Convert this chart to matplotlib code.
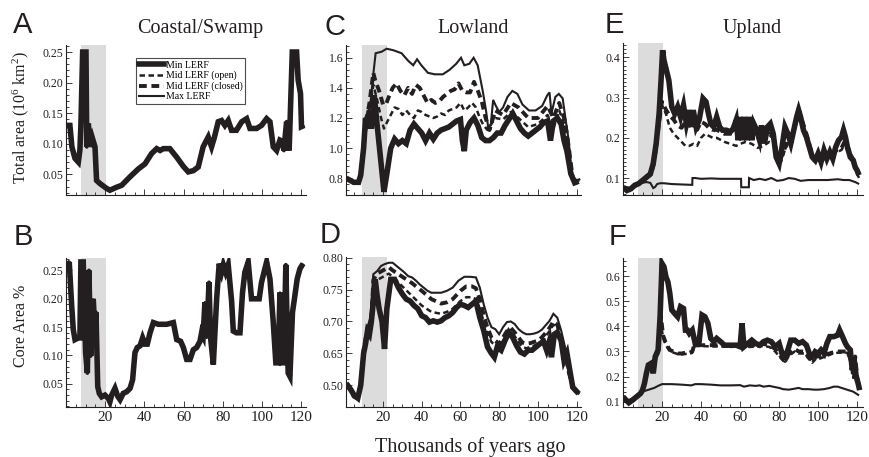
import numpy as np
import matplotlib
matplotlib.use('Agg')
import matplotlib.pyplot as plt
from matplotlib.lines import Line2D
from matplotlib.ticker import FixedLocator, MultipleLocator, FormatStrFormatter

# ---------------- data (thousands of years ago, values) ----------------
coastal_total_t = [0.5, 2, 3, 4.6, 6.3, 7.1, 7.6, 8.5, 10.2, 10.6, 11.4, 12.2, 13.4, 14.8, 15.6, 17.3, 20.7, 22.4, 25.9, 28.4,
                   32.7, 37, 40.3, 43.7, 46.3, 48, 49.7, 53, 56.5, 59.9, 62.4, 65, 67.5, 70, 72.6, 74.3, 75.7, 77.7, 79.4, 81.1,
                   82.8, 84.5, 87, 89.7, 92.2, 93.9, 97.3, 99.8, 102.4, 104.1, 105.8, 107.5, 109.2, 110.5, 111.2, 112.6, 113.9, 115.5, 117.7, 118.5,
                   119.7, 120.2, 121.6]
coastal_total = [0.13, 0.13, 0.095, 0.076, 0.07, 0.09, 0.13, 0.25, 0.25, 0.095, 0.133, 0.095, 0.11, 0.095, 0.04, 0.035, 0.027, 0.024, 0.029, 0.032,
                 0.046, 0.059, 0.067, 0.084, 0.092, 0.089, 0.092, 0.092, 0.078, 0.063, 0.054, 0.056, 0.062, 0.095, 0.111, 0.095, 0.11, 0.136, 0.138, 0.13,
                 0.138, 0.122, 0.122, 0.136, 0.141, 0.125, 0.125, 0.13, 0.141, 0.136, 0.095, 0.089, 0.106, 0.104, 0.089, 0.136, 0.089, 0.25, 0.25, 0.204,
                 0.182, 0.128, 0.13]

coastal_core_t = [0.5, 1.7, 2.9, 3.7, 4.6, 6.3, 7.1, 7.6, 8.8, 10, 10.9, 11.7, 12.6, 13.4, 13.9, 14.8, 15.3, 16.2, 17, 18.2,
                  19.9, 21.6, 22.4, 23.3, 25, 26.4, 27.6, 29.2, 31, 32.7, 34, 35.2, 36.4, 37.8, 39.1, 40.3, 41.5, 42.9, 44.6, 47.1,
                  51.4, 54.8, 56.5, 58.5, 59.9, 61.6, 63.3, 65, 66.7, 68.4, 69.2, 70, 70.9, 71.8, 73, 73.8, 75.2, 76, 76.9, 78.2,
                  79.4, 80.3, 81.5, 82.8, 84.5, 85.4, 87, 88.8, 90.1, 91.3, 93, 94.7, 96.4, 98.6, 99.8, 101.5, 102.4, 104.1, 105.8, 107.1,
                  108.3, 109.2, 110, 111.2, 112.2, 113.4, 114.3, 115.6, 116.8, 118, 119.4, 121]
coastal_core = [0.265, 0.262, 0.188, 0.146, 0.128, 0.131, 0.131, 0.265, 0.265, 0.105, 0.069, 0.25, 0.099, 0.188, 0.2, 0.14, 0.176, 0.045, 0.033, 0.027,
                0.03, 0.024, 0.018, 0.03, 0.042, 0.028, 0.022, 0.033, 0.036, 0.042, 0.057, 0.105, 0.114, 0.117, 0.131, 0.12, 0.12, 0.14, 0.158, 0.155,
                0.155, 0.158, 0.128, 0.125, 0.114, 0.093, 0.093, 0.11, 0.114, 0.125, 0.14, 0.134, 0.194, 0.131, 0.229, 0.131, 0.084, 0.14, 0.2, 0.262,
                0.247, 0.26, 0.247, 0.26, 0.197, 0.143, 0.14, 0.14, 0.211, 0.247, 0.265, 0.2, 0.2, 0.2, 0.229, 0.253, 0.265, 0.235, 0.158, 0.087,
                0.087, 0.211, 0.087, 0.087, 0.26, 0.069, 0.063, 0.176, 0.205, 0.235, 0.253, 0.262]

lowland_total_max_t = [1, 2.5, 4.8, 7.4, 8.5, 10.8, 13.3, 15, 16.2, 19.3, 21.9, 25.3, 29.6, 33, 35.6, 37.6, 39.8, 43.2, 46.7, 50.9,
                       54.4, 57.8, 60.3, 62, 64.6, 66.8, 68.9, 71.5, 73.2, 74.4, 75.7, 76.9, 78.3, 80, 82, 84.3, 86.8, 89.4, 92, 95.4,
                       98.8, 102.2, 104.8, 106, 107, 109, 110.8, 112.8, 114.2, 115.9, 117.6, 119.7, 121.9]
lowland_total_max = [0.8, 0.79, 0.773, 0.773, 0.817, 1.2, 1.27, 1.49, 1.63, 1.64, 1.66, 1.65, 1.63, 1.58, 1.55, 1.59, 1.55, 1.5, 1.49, 1.49,
                     1.52, 1.56, 1.6, 1.55, 1.56, 1.6, 1.55, 1.38, 1.25, 1.13, 1.16, 1.32, 1.28, 1.24, 1.27, 1.34, 1.38, 1.36, 1.29, 1.25,
                     1.25, 1.28, 1.35, 1.37, 1.23, 1.34, 1.36, 1.33, 1.2, 1.05, 0.806, 0.784, 0.795]
lowland_total_closed_t = [1, 4.8, 7.4, 8.5, 11, 13, 15, 16, 18, 20, 21.5, 23, 25, 27, 29, 31, 33, 35, 37, 39,
                          41, 43, 45, 47, 49, 51, 53, 55, 57, 59, 61, 63, 65, 67, 69, 71, 73, 75, 78, 82,
                          86, 90, 95, 100, 105, 108, 111, 114, 116, 118, 120, 121.9]
lowland_total_closed = [0.8, 0.773, 0.773, 0.817, 1.15, 1.3, 1.5, 1.45, 1.38, 1.29, 1.29, 1.34, 1.4, 1.43, 1.38, 1.35, 1.4, 1.36, 1.42, 1.4,
                        1.35, 1.3, 1.32, 1.3, 1.31, 1.34, 1.36, 1.38, 1.39, 1.43, 1.38, 1.37, 1.37, 1.44, 1.38, 1.31, 1.2, 1.12, 1.25, 1.22,
                        1.3, 1.27, 1.2, 1.2, 1.28, 1.2, 1.3, 1.18, 1.0, 0.8, 0.78, 0.79]
lowland_total_open_t = [1, 4.8, 7.4, 8.5, 11, 13, 15, 17, 19, 20.5, 22, 24, 26, 28, 30, 32, 34, 36, 38, 40,
                        42, 44, 46, 48, 50, 52, 54, 56, 58, 60, 62, 64, 66, 68, 70, 72, 74, 78, 82, 86,
                        90, 95, 100, 105, 108, 111, 114, 116, 118, 120, 121.9]
lowland_total_open = [0.8, 0.773, 0.773, 0.817, 1.1, 1.25, 1.42, 1.32, 1.2, 1.13, 1.17, 1.22, 1.27, 1.26, 1.22, 1.25, 1.22, 1.2, 1.25, 1.24,
                      1.22, 1.21, 1.2, 1.21, 1.23, 1.22, 1.25, 1.26, 1.27, 1.3, 1.25, 1.27, 1.3, 1.27, 1.2, 1.15, 1.12, 1.2, 1.19, 1.24,
                      1.2, 1.14, 1.16, 1.22, 1.13, 1.25, 1.15, 1.0, 0.8, 0.78, 0.79]
lowland_total_min_t = [1, 2.5, 4.8, 7.4, 8.5, 10, 11, 12, 13, 14, 15.5, 17, 19, 20.5, 22, 24, 26, 28, 30, 32,
                       34, 36, 38, 40, 42, 44, 46, 48, 50, 52, 54, 56, 58, 60, 61, 62, 63, 65, 67, 69,
                       71, 73, 75, 77, 79, 81, 83, 85, 87, 89, 91, 93, 95, 97, 99, 101, 103, 105, 106.5, 108,
                       110, 112, 113.5, 115, 117, 119, 121]
lowland_total_min = [0.8, 0.79, 0.773, 0.773, 0.82, 1.0, 1.2, 1.13, 1.25, 1.13, 1.35, 1.15, 0.9, 0.71, 0.83, 1.0, 1.06, 1.03, 1.05, 1.03,
                     1.12, 1.16, 1.13, 1.1, 1.05, 1.1, 1.06, 1.1, 1.12, 1.13, 1.14, 1.16, 1.18, 1.19, 1.05, 0.98, 1.12, 1.17, 1.2, 1.15,
                     1.07, 1.05, 1.05, 1.07, 1.1, 1.1, 1.15, 1.19, 1.23, 1.18, 1.13, 1.1, 1.08, 1.1, 1.12, 1.14, 1.17, 1.18, 1.05, 1.18,
                     1.2, 1.16, 1.05, 0.98, 0.83, 0.77, 0.78]

lowland_core_max_t = [1, 3, 5, 7, 8.5, 10, 12, 13.5, 15, 17, 19, 21, 23, 25, 27, 29, 31, 33, 35, 37,
                      39, 41, 43, 45, 50, 53, 56, 59, 62, 65, 68, 70, 72, 74, 76, 78, 80, 82, 84, 86,
                      88, 90, 92, 94, 96, 98, 100, 102, 104, 106, 108, 110, 112, 114, 116, 118, 120, 121.5]
lowland_core_max = [0.509, 0.476, 0.446, 0.437, 0.509, 0.655, 0.691, 0.706, 0.774, 0.779, 0.787, 0.79, 0.792, 0.792, 0.787, 0.782, 0.777, 0.771, 0.769, 0.764,
                    0.758, 0.753, 0.748, 0.745, 0.745, 0.748, 0.753, 0.764, 0.77, 0.77, 0.769, 0.753, 0.727, 0.706, 0.691, 0.688, 0.68, 0.691, 0.699, 0.7,
                    0.696, 0.688, 0.683, 0.68, 0.68, 0.681, 0.683, 0.687, 0.694, 0.701, 0.712, 0.706, 0.686, 0.66, 0.569, 0.491, 0.47, 0.461]
lowland_core_mid_t = [1, 5, 7, 8.5, 10, 12, 14, 15, 17, 20, 23, 25, 30, 35, 40, 45, 50, 53, 56, 60,
                      63, 66, 68, 70, 72, 74, 76, 78, 80, 82, 84, 86, 88, 90, 92, 94, 96, 98, 100, 102,
                      104, 106, 108, 110, 112, 114, 116, 118, 120, 121.5]
lowland_core_closed = [0.509, 0.446, 0.437, 0.509, 0.655, 0.69, 0.70, 0.765, 0.775, 0.78, 0.785, 0.78, 0.77, 0.76, 0.748, 0.735, 0.728, 0.73, 0.735, 0.748,
                       0.755, 0.755, 0.752, 0.735, 0.71, 0.69, 0.675, 0.67, 0.665, 0.675, 0.685, 0.69, 0.683, 0.675, 0.667, 0.665, 0.666, 0.668, 0.67, 0.675,
                       0.682, 0.69, 0.7, 0.695, 0.675, 0.65, 0.56, 0.49, 0.47, 0.461]
lowland_core_open = [0.509, 0.446, 0.437, 0.509, 0.655, 0.688, 0.70, 0.76, 0.765, 0.77, 0.775, 0.77, 0.755, 0.74, 0.725, 0.715, 0.712, 0.715, 0.72, 0.732,
                     0.738, 0.738, 0.735, 0.72, 0.7, 0.68, 0.668, 0.662, 0.66, 0.67, 0.68, 0.685, 0.677, 0.668, 0.66, 0.658, 0.66, 0.662, 0.665, 0.67,
                     0.677, 0.685, 0.695, 0.69, 0.668, 0.645, 0.555, 0.49, 0.47, 0.461]
lowland_core_min_t = [1, 3, 5, 7, 8.5, 10, 11, 12, 13, 14, 15, 16, 17, 18, 19.5, 20.8, 22, 24, 26, 28,
                      30, 32, 34, 36, 38, 40, 42, 44, 46, 48, 50, 52, 54, 56, 58, 60, 62, 64, 66, 68,
                      70, 72, 74, 76, 77.5, 79, 81, 83, 85, 87, 89, 91, 93, 95, 97, 99, 101, 103, 104.5, 106,
                      107, 108.5, 110, 112, 113.5, 115, 116.5, 118, 119.5, 121]
lowland_core_min = [0.509, 0.485, 0.455, 0.44, 0.5, 0.65, 0.665, 0.685, 0.68, 0.7, 0.73, 0.766, 0.74, 0.72, 0.7, 0.657, 0.72, 0.766, 0.766, 0.753,
                    0.743, 0.735, 0.732, 0.725, 0.72, 0.709, 0.706, 0.699, 0.701, 0.699, 0.701, 0.706, 0.709, 0.714, 0.722, 0.727, 0.725, 0.722, 0.727, 0.732,
                    0.706, 0.686, 0.66, 0.65, 0.632, 0.66, 0.655, 0.67, 0.683, 0.675, 0.662, 0.652, 0.647, 0.655, 0.655, 0.66, 0.665, 0.668, 0.655, 0.67,
                    0.632, 0.68, 0.683, 0.67, 0.617, 0.65, 0.569, 0.491, 0.476, 0.461]

upland_total_min_t = [0, 2, 4, 6, 8, 10, 12, 14, 15.5, 17, 18.5, 19.5, 20.3, 21, 22, 23.5, 25, 26.5, 28, 29.5,
                      31, 32.5, 34, 35, 36, 37.5, 39, 41, 42.5, 44, 45, 46.5, 48, 49.5, 51, 53, 55, 56.5, 58, 59,
                      60, 61, 62, 63.5, 64.5, 66, 67, 68.5, 70, 71, 72.5, 74, 75.5, 77, 78.5, 80, 81.5, 83, 84.5, 86,
                      87.5, 89, 90, 91, 92.5, 94, 95.5, 97, 98.5, 100, 101.5, 103, 104.5, 106, 107.5, 109, 110.5, 112, 113, 114,
                      115, 116.5, 118, 119, 120, 121]
upland_total_min = [0.077, 0.069, 0.073, 0.082, 0.086, 0.094, 0.102, 0.11, 0.136, 0.186, 0.26, 0.343, 0.418, 0.393, 0.373, 0.343, 0.277, 0.26, 0.277, 0.252,
                    0.281, 0.235, 0.269, 0.227, 0.269, 0.227, 0.244, 0.298, 0.29, 0.256, 0.235, 0.227, 0.252, 0.227, 0.219, 0.219, 0.215, 0.223, 0.244, 0.194,
                    0.252, 0.194, 0.252, 0.194, 0.252, 0.194, 0.235, 0.219, 0.194, 0.231, 0.186, 0.227, 0.235, 0.21, 0.152, 0.136, 0.177, 0.227, 0.21, 0.186,
                    0.219, 0.252, 0.269, 0.252, 0.219, 0.202, 0.177, 0.152, 0.144, 0.161, 0.14, 0.169, 0.148, 0.165, 0.148, 0.177, 0.194, 0.202, 0.219, 0.202,
                    0.177, 0.152, 0.144, 0.127, 0.119, 0.107]
upland_total_mid_t = [0, 4, 8, 12, 14, 15.5, 17, 18.5, 20, 22, 24, 26, 28, 30, 32, 34, 36, 38, 40, 42,
                      44, 46, 48, 50, 52, 55, 58, 60, 63, 66, 69, 72, 75, 77, 79, 81, 83, 85, 87, 89,
                      90, 92, 94, 96, 98, 100, 102, 104, 106, 108, 110, 112, 114, 116, 118, 120, 121]
upland_total_closed = [0.077, 0.073, 0.086, 0.1, 0.108, 0.13, 0.175, 0.24, 0.29, 0.27, 0.255, 0.245, 0.23, 0.225, 0.24, 0.23, 0.235, 0.22, 0.24, 0.235,
                       0.225, 0.22, 0.22, 0.215, 0.21, 0.21, 0.215, 0.22, 0.22, 0.21, 0.2, 0.2, 0.21, 0.2, 0.16, 0.15, 0.175, 0.2, 0.21, 0.245,
                       0.265, 0.24, 0.21, 0.175, 0.145, 0.15, 0.145, 0.155, 0.155, 0.165, 0.17, 0.175, 0.195, 0.165, 0.145, 0.115, 0.105]
upland_total_open = [0.077, 0.073, 0.086, 0.1, 0.108, 0.13, 0.175, 0.235, 0.28, 0.26, 0.225, 0.21, 0.2, 0.19, 0.18, 0.18, 0.185, 0.18, 0.2, 0.21,
                     0.205, 0.2, 0.2, 0.195, 0.19, 0.185, 0.18, 0.185, 0.19, 0.185, 0.175, 0.18, 0.19, 0.185, 0.15, 0.14, 0.17, 0.19, 0.2, 0.24,
                     0.26, 0.23, 0.2, 0.17, 0.14, 0.145, 0.14, 0.15, 0.15, 0.16, 0.165, 0.17, 0.19, 0.16, 0.14, 0.11, 0.1]
upland_total_max_t = [0, 2, 4, 6, 8, 10, 12, 14, 15.5, 16.5, 17.5, 19, 21, 25, 30, 35.5, 35.6, 37, 40, 45,
                      50, 55, 60.5, 60.6, 64.5, 64.6, 67, 70, 73, 76, 79, 82, 85, 88, 91, 95, 100, 105, 110, 113,
                      116, 119, 121]
upland_total_max = [0.077, 0.072, 0.075, 0.08, 0.085, 0.088, 0.09, 0.088, 0.075, 0.078, 0.085, 0.087, 0.087, 0.085, 0.084, 0.083, 0.1, 0.1, 0.098, 0.099,
                    0.098, 0.098, 0.098, 0.077, 0.077, 0.1, 0.095, 0.098, 0.095, 0.1, 0.093, 0.095, 0.1, 0.098, 0.093, 0.095, 0.095, 0.095, 0.097, 0.095,
                    0.095, 0.09, 0.085]

upland_core_min_t = [0, 1.5, 3, 5, 7, 9, 10, 11, 12, 13, 14.5, 15.5, 16.5, 18, 19, 20, 21, 22, 23, 24,
                     25, 26.5, 28, 29.5, 31, 32, 33, 34, 35.5, 37, 39, 40.5, 42, 43.5, 45, 46.5, 48, 50, 52, 55,
                     58, 60, 61, 62, 64, 66, 68, 70, 72, 74, 76, 78, 80, 81.5, 83, 84.5, 86, 88, 90, 92,
                     94, 95.5, 97, 98.5, 100, 101.5, 103, 104.5, 106, 108, 110, 111, 112.5, 114, 115, 116.5, 117.5, 118.5, 119.5, 120.5,
                     121.3]
upland_core_min = [0.12, 0.107, 0.096, 0.107, 0.12, 0.133, 0.146, 0.173, 0.213, 0.246, 0.253, 0.213, 0.279, 0.306, 0.438, 0.65, 0.637, 0.597, 0.577, 0.531,
                   0.465, 0.451, 0.438, 0.478, 0.471, 0.385, 0.385, 0.372, 0.385, 0.332, 0.339, 0.445, 0.438, 0.412, 0.352, 0.339, 0.352, 0.339, 0.325, 0.325,
                   0.325, 0.319, 0.412, 0.319, 0.332, 0.345, 0.332, 0.325, 0.339, 0.345, 0.339, 0.319, 0.332, 0.292, 0.279, 0.306, 0.345, 0.345, 0.332, 0.339,
                   0.325, 0.292, 0.279, 0.299, 0.292, 0.306, 0.292, 0.332, 0.359, 0.359, 0.365, 0.385, 0.359, 0.332, 0.319, 0.306, 0.226, 0.266, 0.2, 0.173,
                   0.146]
upland_core_mid_t = [0, 3, 7, 10, 12, 13, 14.5, 15.5, 16.5, 18, 19.5, 20.5, 22, 24, 26, 28, 30, 32, 34, 35.5,
                     36.5, 38, 40, 45, 50, 55, 60, 65, 70, 72, 75, 78, 81, 83, 85, 88, 90, 93, 95, 97,
                     99, 101, 103, 105, 107, 110, 113, 115, 117, 118, 119, 120, 121]
upland_core_closed = [0.12, 0.096, 0.12, 0.146, 0.21, 0.24, 0.25, 0.22, 0.27, 0.3, 0.438, 0.365, 0.332, 0.306, 0.299, 0.292, 0.292, 0.295, 0.295, 0.3,
                      0.325, 0.325, 0.325, 0.325, 0.325, 0.325, 0.325, 0.325, 0.325, 0.33, 0.325, 0.31, 0.28, 0.262, 0.29, 0.31, 0.3, 0.3, 0.28, 0.262,
                      0.28, 0.28, 0.285, 0.29, 0.295, 0.3, 0.3, 0.3, 0.26, 0.2, 0.28, 0.2, 0.15]
upland_core_open = [0.12, 0.096, 0.12, 0.146, 0.205, 0.235, 0.245, 0.215, 0.265, 0.29, 0.41, 0.355, 0.325, 0.3, 0.295, 0.29, 0.288, 0.29, 0.29, 0.295,
                    0.32, 0.322, 0.322, 0.32, 0.32, 0.318, 0.32, 0.318, 0.32, 0.322, 0.318, 0.3, 0.272, 0.255, 0.282, 0.3, 0.292, 0.292, 0.272, 0.255,
                    0.272, 0.272, 0.278, 0.284, 0.29, 0.295, 0.295, 0.295, 0.25, 0.195, 0.27, 0.19, 0.145]
upland_core_max_t = [0, 2, 4, 6, 8, 10, 12, 14, 16, 18, 20, 25, 30, 35, 37, 40, 45, 50, 55, 60,
                     62, 65, 68, 70, 72, 75, 78, 80, 82, 85, 88, 90, 92, 95, 98, 100, 103, 106, 108, 110,
                     112, 114, 116, 118, 120, 121]
upland_core_max = [0.12, 0.105, 0.11, 0.12, 0.13, 0.14, 0.145, 0.15, 0.155, 0.163, 0.17, 0.17, 0.168, 0.165, 0.17, 0.17, 0.168, 0.165, 0.165, 0.166,
                   0.16, 0.165, 0.163, 0.165, 0.16, 0.163, 0.158, 0.155, 0.15, 0.148, 0.152, 0.155, 0.15, 0.15, 0.148, 0.148, 0.15, 0.155, 0.16, 0.16,
                   0.155, 0.15, 0.145, 0.14, 0.13, 0.125]

legend_labels = ['Min LERF', 'Mid LERF (open)', 'Mid LERF (closed)', 'Max LERF']
x_ticks = [20, 40, 60, 80, 100, 120]

# ---------------- styling ----------------
plt.rcParams['font.family'] = ['Liberation Serif', 'DejaVu Serif']
plt.rcParams['mathtext.fontset'] = 'custom'
plt.rcParams['mathtext.rm'] = 'Liberation Serif'
plt.rcParams['mathtext.it'] = 'Liberation Serif:italic'
plt.rcParams['mathtext.default'] = 'regular'

INK = '#231f20'
SHADE = '#dcdcdc'
STYLES = {
    'min': dict(lw=4.0, ls='-'),
    'open': dict(lw=1.8, dashes=(2.2, 1.4)),
    'closed': dict(lw=2.8, dashes=(2.0, 1.2)),
    'max': dict(lw=1.5, ls='-'),
}

W, H = 870, 457
fig = plt.figure(figsize=(W / 100, H / 100), dpi=100)


def rect(left, right, top, bottom):
    return [left / W, 1 - bottom / H, (right - left) / W, (bottom - top) / H]


def draw(ax, series):
    for key, t, v in series:
        ax.plot(t, v, color=INK, solid_capstyle='butt', dash_capstyle='butt',
                solid_joinstyle='miter', **STYLES[key])


def style(ax, xlim, ylim, yticks, fmt, xlabels, shade):
    ax.axvspan(shade[0], shade[1], color=SHADE, lw=0, zorder=0)
    for s in ['top', 'right']:
        ax.spines[s].set_visible(False)
    for s in ['left', 'bottom']:
        ax.spines[s].set_linewidth(0.8)
        ax.spines[s].set_color(INK)
    ax.set_xlim(*xlim)
    ax.set_ylim(*ylim)
    ax.xaxis.set_major_locator(FixedLocator(x_ticks))
    ax.xaxis.set_minor_locator(MultipleLocator(5))
    ax.yaxis.set_major_locator(FixedLocator(yticks))
    ax.yaxis.set_major_formatter(FormatStrFormatter(fmt))
    ax.tick_params(which='both', direction='in', color=INK, width=0.6,
                   labelcolor=INK)
    ax.tick_params(which='major', length=4)
    ax.tick_params(which='minor', length=2)
    ax.tick_params(axis='y', labelsize=8.5, pad=2)
    ax.tick_params(axis='x', labelsize=11, pad=3, labelbottom=xlabels)


shade_a = (7.8, 20.3)
shade_c = (9.2, 21.9)

# A
axA = fig.add_axes(rect(66, 306, 45, 194.5))
style(axA, (0, 122.5), (0.017, 0.2615), [0.05, 0.10, 0.15, 0.20, 0.25], '%.2f', False, shade_a)
axA.yaxis.set_minor_locator(MultipleLocator(0.01))
draw(axA, [('max', coastal_total_t, coastal_total), ('open', coastal_total_t, coastal_total),
           ('closed', coastal_total_t, coastal_total), ('min', coastal_total_t, coastal_total)])
handles = [Line2D([0], [0], color=INK, **STYLES[k]) for k in ['min', 'open', 'closed', 'max']]
leg = axA.legend(handles, legend_labels, loc='upper left', bbox_to_anchor=(0.29, 0.915),
                 borderaxespad=0, fontsize=7, frameon=True, fancybox=False, handlelength=2.6,
                 handletextpad=0.2, labelspacing=0.12, borderpad=0.3)
leg.get_frame().set_edgecolor(INK)
leg.get_frame().set_linewidth(0.8)

# B
axB = fig.add_axes(rect(66, 306, 258, 407))
style(axB, (0, 122.5), (0.009, 0.272), [0.05, 0.10, 0.15, 0.20, 0.25], '%.2f', True, shade_a)
axB.yaxis.set_minor_locator(MultipleLocator(0.01))
draw(axB, [('max', coastal_core_t, coastal_core), ('open', coastal_core_t, coastal_core),
           ('closed', coastal_core_t, coastal_core), ('min', coastal_core_t, coastal_core)])

# C
axC = fig.add_axes(rect(346, 580.5, 44.5, 194.5))
style(axC, (0.9, 122), (0.692, 1.688), [0.8, 1.0, 1.2, 1.4, 1.6], '%.1f', False, shade_c)
axC.yaxis.set_minor_locator(MultipleLocator(0.04))
draw(axC, [('max', lowland_total_max_t, lowland_total_max),
           ('open', lowland_total_open_t, lowland_total_open),
           ('closed', lowland_total_closed_t, lowland_total_closed),
           ('min', lowland_total_min_t, lowland_total_min)])


# D (compressed axis below 0.65)
def fwd(v):
    v = np.asarray(v, dtype=float)
    return np.where(v >= 0.65, v, 0.65 - (0.65 - v) / 3.0)


def inv(p):
    p = np.asarray(p, dtype=float)
    return np.where(p >= 0.65, p, 0.65 - 3.0 * (0.65 - p))


axD = fig.add_axes(rect(346, 580.5, 257, 407))
axD.set_yscale('function', functions=(fwd, inv))
style(axD, (0.9, 122), (0.398, 0.801), [0.50, 0.65, 0.70, 0.75, 0.80], '%.2f', True, shade_c)
axD.yaxis.set_minor_locator(FixedLocator(list(np.arange(0.53, 0.64, 0.03)) + list(np.arange(0.66, 0.80, 0.01))))
draw(axD, [('max', lowland_core_max_t, lowland_core_max),
           ('open', lowland_core_mid_t, lowland_core_open),
           ('closed', lowland_core_mid_t, lowland_core_closed),
           ('min', lowland_core_min_t, lowland_core_min)])

# E
axE = fig.add_axes(rect(623, 863, 43, 194.5))
style(axE, (0, 123), (0.059, 0.436), [0.1, 0.2, 0.3, 0.4], '%.1f', False, shade_a)
axE.yaxis.set_minor_locator(MultipleLocator(0.01))
draw(axE, [('max', upland_total_max_t, upland_total_max),
           ('open', upland_total_mid_t, upland_total_open),
           ('closed', upland_total_mid_t, upland_total_closed),
           ('min', upland_total_min_t, upland_total_min)])

# F
axF = fig.add_axes(rect(623, 863, 258, 407))
style(axF, (0, 123), (0.079, 0.672), [0.1, 0.2, 0.3, 0.4, 0.5, 0.6], '%.1f', True, shade_a)
axF.yaxis.set_minor_locator(MultipleLocator(0.02))
draw(axF, [('max', upland_core_max_t, upland_core_max),
           ('open', upland_core_mid_t, upland_core_open),
           ('closed', upland_core_mid_t, upland_core_closed),
           ('min', upland_core_min_t, upland_core_min)])

# ---------------- text ----------------
letter_kw = dict(family=['Liberation Sans', 'DejaVu Sans'], fontsize=21, color=INK, va='baseline', ha='left')
for txt, x, y in [('A', 13, 33), ('B', 14, 245), ('C', 324, 35), ('D', 320, 243), ('E', 605, 33), ('F', 609, 245)]:
    fig.text(x / W, 1 - y / H, txt, **letter_kw)

for txt, x in [('Coastal/Swamp', 200), ('Lowland', 473), ('Upland', 752)]:
    fig.text(x / W, 1 - 33 / H, txt, fontsize=14.5, color=INK, ha='center', va='baseline')

fig.text(21 / W, 1 - 117 / H, 'Total area (10$^{6}$ km$^{2}$)', rotation=90, fontsize=11.5,
         color=INK, ha='center', va='center')
fig.text(21 / W, 1 - 326 / H, 'Core Area %', rotation=90, fontsize=11.5,
         color=INK, ha='center', va='center')
fig.text(470 / W, 1 - 447 / H, 'Thousands of years ago', fontsize=14.5, color=INK,
         ha='center', va='center')

fig.savefig('out.png', dpi=100)
